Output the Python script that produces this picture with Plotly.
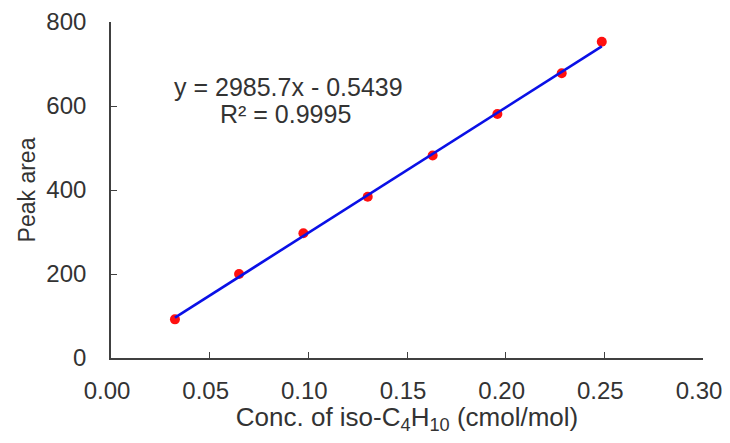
import plotly.graph_objects as go

# Data
conc = [0.0324, 0.0649, 0.0975, 0.1301, 0.1630, 0.1958, 0.2284, 0.2487]
peak_area = [92, 200, 297, 384, 482, 581, 678, 753]

# Trendline endpoints (y = 2985.7x - 0.5439 over data range)
fit_x = [0.0324, 0.2487]
fit_y = [96.2, 742.0]

x_ticks = [0.00, 0.05, 0.10, 0.15, 0.20, 0.25, 0.30]
x_tick_labels = ["0.00", "0.05", "0.10", "0.15", "0.20", "0.25", "0.30"]
y_ticks = [0, 200, 400, 600, 800]
y_tick_labels = ["0", "200", "400", "600", "800"]

equation_text = "y = 2985.7x - 0.5439"
r2_text = "R² = 0.9995"

FONT = "Liberation Sans, Arial, sans-serif"
TXT = "#333333"
AX = "#404040"

fig = go.Figure()
fig.add_trace(go.Scatter(
    x=conc, y=peak_area, mode="markers",
    marker=dict(color="#ff1010", size=10, line=dict(width=0)),
    showlegend=False,
))
fig.add_trace(go.Scatter(
    x=fit_x, y=fit_y, mode="lines",
    line=dict(color="#0a10e6", width=2.6),
    showlegend=False,
))

fig.add_annotation(
    x=0.0897, y=646, xref="x", yref="y",
    text=equation_text, showarrow=False,
    font=dict(family=FONT, size=25, color=TXT),
)
fig.add_annotation(
    x=0.0885, y=580, xref="x", yref="y",
    text=r2_text, showarrow=False,
    font=dict(family=FONT, size=25, color=TXT),
)

# The page body has an 8px default margin, so the figure is sized to fit
# inside the window with that offset.
fig.update_layout(
    width=714, height=427,
    margin=dict(l=103, r=19, t=14, b=77, autoexpand=False),
    paper_bgcolor="white", plot_bgcolor="white",
    font=dict(family=FONT, size=25, color=TXT),
    xaxis=dict(
        range=[0, 0.30], tickvals=x_ticks, ticktext=x_tick_labels,
        automargin=False,
        showgrid=False, zeroline=False,
        showline=True, linecolor=AX, linewidth=1.6,
        ticks="inside", ticklen=6, tickwidth=1.4, tickcolor=AX,
        ticklabelstandoff=10, ticklabelshift=-4, ticklabeloverflow="allow",
        tickfont=dict(family=FONT, size=24, color=TXT),
        title=dict(text="Conc. of iso-C<sub>4</sub>H<sub>10</sub> (cmol/mol)",
                   font=dict(family=FONT, size=26, color=TXT), standoff=12),
    ),
    yaxis=dict(
        range=[0, 800], tickvals=y_ticks, ticktext=y_tick_labels,
        automargin=False,
        showgrid=False, zeroline=False,
        showline=True, linecolor=AX, linewidth=1.6,
        ticks="inside", ticklen=6, tickwidth=1.4, tickcolor=AX,
        ticklabelstandoff=18, ticklabeloverflow="allow",
        tickfont=dict(family=FONT, size=24, color=TXT),
        title=dict(text="Peak area",
                   font=dict(family=FONT, size=23, color=TXT), standoff=4),
    ),
)

fig.write_html("out.html")
